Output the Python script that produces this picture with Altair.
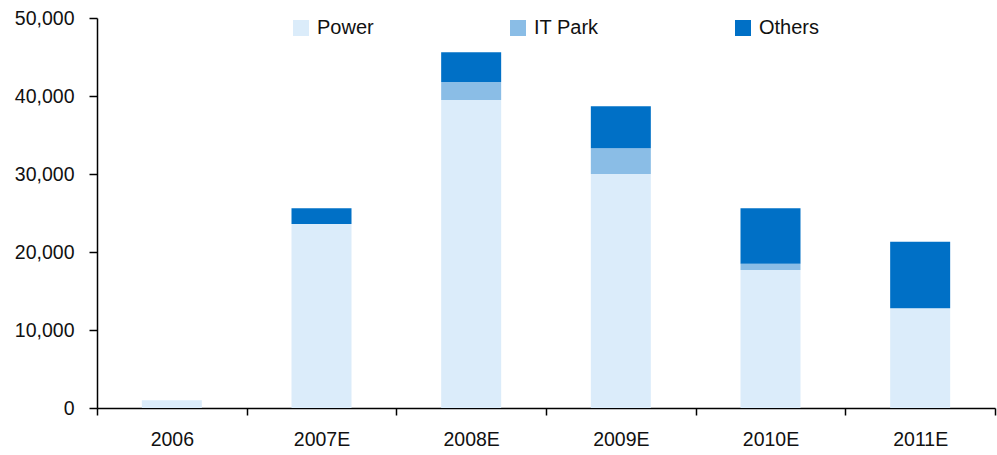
import altair as alt
import pandas as pd

# Yearly capex split by segment (stacked)
years = ["2006", "2007E", "2008E", "2009E", "2010E", "2011E"]
segments = ["Power", "IT Park", "Others"]
power = [1000, 23600, 39500, 30000, 17700, 12800]
it_park = [0, 0, 2300, 3300, 800, 0]
others = [0, 2000, 3800, 5400, 7100, 8500]
colors = ["#DBECFA", "#8ABDE6", "#0070C6"]

rows = []
for i, yr in enumerate(years):
    for k, (seg, vals) in enumerate(zip(segments, [power, it_park, others])):
        rows.append({"year": yr, "segment": seg, "value": vals[i], "rank": k})
df = pd.DataFrame(rows)

FONT = "Liberation Sans"

chart = (
    alt.Chart(df)
    .mark_bar(size=60)
    .encode(
        x=alt.X(
            "year:N",
            sort=years,
            title=None,
            scale=alt.Scale(paddingInner=0, paddingOuter=0),
            axis=alt.Axis(
                labelAngle=0,
                labelFontSize=19.5,
                labelFont=FONT,
                labelColor="#111111",
                labelPadding=15,
                tickBand="extent",
                tickSize=7,
                tickColor="black",
                tickWidth=1.5,
                domainColor="black",
                domainWidth=1.5,
            ),
        ),
        y=alt.Y(
            "value:Q",
            stack="zero",
            title=None,
            scale=alt.Scale(domain=[0, 50000], nice=False),
            axis=alt.Axis(
                values=[0, 10000, 20000, 30000, 40000, 50000],
                format=",.0f",
                grid=False,
                labelFontSize=19.5,
                labelFont=FONT,
                labelColor="#111111",
                labelPadding=15,
                tickSize=8,
                tickColor="black",
                tickWidth=1.5,
                domainColor="black",
                domainWidth=1.5,
            ),
        ),
        color=alt.Color(
            "segment:N",
            scale=alt.Scale(domain=segments, range=colors),
            legend=alt.Legend(
                title=None,
                orient="none",
                direction="horizontal",
                legendX=194,
                legendY=0,
                padding=0,
                symbolType="square",
                symbolSize=256,
                symbolStrokeWidth=0,
                symbolOpacity=1,
                labelFontSize=20,
                labelFont=FONT,
                labelColor="#111111",
                labelOffset=6,
                columnPadding=134,
            ),
        ),
        order=alt.Order("rank:Q"),
    )
    .properties(
        width=898,
        height=390,
        autosize=alt.AutoSizeParams(type="none"),
        padding={"left": 97, "top": 18, "right": 2, "bottom": 47},
    )
    .configure_view(stroke=None)
)

chart.save("out.html", embed_options={"renderer": "svg", "actions": False})
